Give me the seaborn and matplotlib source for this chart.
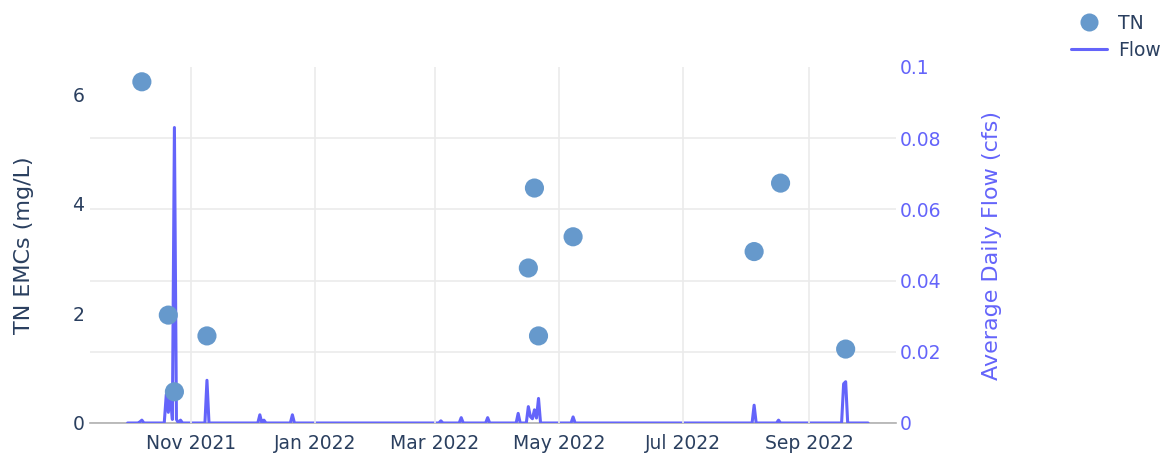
import matplotlib
matplotlib.use("Agg")
import matplotlib.pyplot as plt
import matplotlib.dates as mdates
from matplotlib.lines import Line2D
import pandas as pd
import seaborn as sns

# TN event mean concentrations (mg/L)
tn_dates = ["2021-10-08", "2021-10-21", "2021-10-24", "2021-11-09",
            "2022-04-16", "2022-04-19", "2022-04-21", "2022-05-08",
            "2022-08-05", "2022-08-18", "2022-09-19"]
tn_values = [6.23, 1.97, 0.57, 1.59, 2.83, 4.29, 1.59, 3.40, 3.13, 4.38, 1.35]

# average daily flow (cfs): days with flow, all other days are 0
flow_start = "2021-10-01"
flow_end = "2022-09-30"
flow_event_dates = ["2021-10-07", "2021-10-08",
                    "2021-10-20", "2021-10-21", "2021-10-22", "2021-10-23",
                    "2021-10-24", "2021-10-25", "2021-10-27", "2021-11-09",
                    "2021-12-05", "2021-12-07", "2021-12-21",
                    "2022-03-04", "2022-03-14", "2022-03-27",
                    "2022-04-11", "2022-04-16", "2022-04-17", "2022-04-18",
                    "2022-04-19", "2022-04-20", "2022-04-21", "2022-05-08",
                    "2022-08-05", "2022-08-17", "2022-09-18", "2022-09-19"]
flow_event_values = [0.0003, 0.0008,
                     0.008, 0.003, 0.008, 0.001,
                     0.083, 0.001, 0.0008, 0.012,
                     0.0023, 0.0008, 0.0023,
                     0.0006, 0.0015, 0.0015,
                     0.0027, 0.0046, 0.0018, 0.0012,
                     0.0037, 0.0014, 0.0069, 0.0017,
                     0.005, 0.0008, 0.011, 0.0116]

tn_df = pd.DataFrame({"date": pd.to_datetime(tn_dates), "TN": tn_values})
flow_df = pd.DataFrame({"date": pd.date_range(flow_start, flow_end, freq="D")})
flow_df["Flow"] = 0.0
flow_df = flow_df.set_index("date")
flow_df.loc[pd.to_datetime(flow_event_dates), "Flow"] = flow_event_values
flow_df = flow_df.reset_index()

sns.set_style("white")
plt.rcParams["font.family"] = ["DejaVu Sans"]

text_color = "#2a3f5f"
flow_color = "#6464fa"
tn_color = "#6699cc"
grid_color = "#ebebeb"

fig = plt.figure(figsize=(11.72, 4.55), dpi=100)
ax = fig.add_axes([90 / 1172, 32 / 455, 806 / 1172, 356 / 455])
ax2 = ax.twinx()
ax.set_zorder(ax2.get_zorder() + 1)
ax.patch.set_visible(False)

sns.lineplot(data=flow_df, x="date", y="Flow", ax=ax2, color=flow_color,
             linewidth=2.2, legend=False, zorder=4)
sns.scatterplot(data=tn_df, x="date", y="TN", ax=ax, color=tn_color,
                s=190, edgecolor="none", legend=False, zorder=5)

ax.set_xlim(pd.Timestamp("2021-09-12 12:00"), pd.Timestamp("2022-10-13 18:00"))
ax.set_ylim(0, 6.5)
ax2.set_ylim(0, 0.1)
ax.set_yticks([0, 2, 4, 6])
ax2.set_yticks([0, 0.02, 0.04, 0.06, 0.08, 0.1])
ax2.set_yticklabels(["0", "0.02", "0.04", "0.06", "0.08", "0.1"])

ax.xaxis.set_major_locator(mdates.MonthLocator(bymonth=[1, 3, 5, 7, 9, 11]))
ax.xaxis.set_major_formatter(mdates.DateFormatter("%b %Y"))

ax.grid(axis="x", color=grid_color, linewidth=1.2)
ax.grid(axis="y", visible=False)
ax2.grid(axis="y", color=grid_color, linewidth=1.2)
ax2.grid(axis="x", visible=False)
# no gridline along the top edge
ax2.get_ygridlines()[-1].set_visible(False)

for a in (ax, ax2):
    for side in ("top", "left", "right"):
        a.spines[side].set_visible(False)
ax.spines["bottom"].set_visible(False)
ax2.spines["bottom"].set_color("#b0b0b0")
ax2.spines["bottom"].set_linewidth(1.2)
ax2.spines["bottom"].set_zorder(1)

ax.tick_params(axis="y", length=0, labelsize=13.5, labelcolor=text_color, pad=4)
ax.tick_params(axis="x", length=0, labelsize=13.5, labelcolor=text_color, pad=8)
ax2.tick_params(axis="y", length=0, labelsize=13.5, labelcolor=flow_color, pad=3)

ax.set_xlabel("")
ax.set_ylabel("TN EMCs (mg/L)", fontsize=16, color=text_color, labelpad=28)
ax2.set_ylabel("Average Daily Flow (cfs)", fontsize=16, color=flow_color, labelpad=29)

handles = [Line2D([], [], marker="o", linestyle="none", color=tn_color,
                  markersize=13, markeredgewidth=0),
           Line2D([], [], color=flow_color, linewidth=2.2)]
fig.legend(handles, ["TN", "Flow"], loc="upper right", bbox_to_anchor=(1.0, 0.995),
           frameon=False, fontsize=13.5, labelcolor=text_color,
           handlelength=1.9, handletextpad=0.6, labelspacing=0.45,
           borderaxespad=0.2)

fig.savefig("out.png", dpi=100)
